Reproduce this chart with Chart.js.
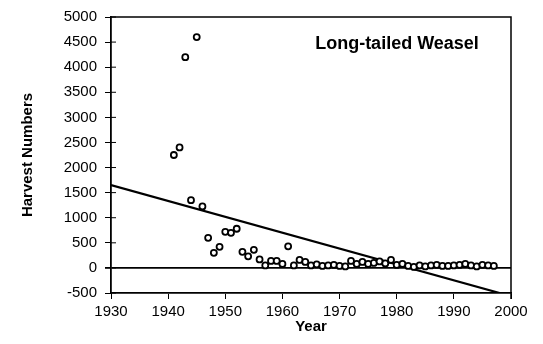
<!DOCTYPE html>
<html>
<head>
<meta charset="utf-8">
<script src="https://cdn.jsdelivr.net/npm/chart.js@4/dist/chart.umd.min.js"></script>
<style>
  html, body { margin: 0; padding: 0; background: #fff; }
  #wrap { width: 543px; height: 344px; }
</style>
</head>
<body>
<div id="wrap"><canvas id="myChart"></canvas></div>
<script>
// harvest numbers
let years = [1941, 1942, 1943, 1944, 1945, 1946, 1947, 1948, 1949, 1950,
    1951, 1952, 1953, 1954, 1955, 1956, 1957, 1958, 1959, 1960,
    1961, 1962, 1963, 1964, 1965, 1966, 1967, 1968, 1969, 1970,
    1971, 1972, 1973, 1974, 1975, 1976, 1977, 1978, 1979, 1980,
    1981, 1982, 1983, 1984, 1985, 1986, 1987, 1988, 1989, 1990,
    1991, 1992, 1993, 1994, 1995, 1996, 1997];
let harvest = [2250, 2400, 4200, 1350, 4600, 1225, 600, 300, 420, 720,
    700, 780, 320, 230, 360, 170, 50, 140, 140, 80,
    430, 50, 160, 120, 50, 70, 40, 50, 60, 40,
    30, 140, 80, 120, 80, 100, 130, 90, 160, 60,
    80, 40, 20, 50, 30, 50, 60, 40, 40, 50,
    60, 80, 50, 30, 60, 50, 40];

// linear trend line end points
let trendYears = [1930, 1998];
let trendValues = [1650, -500];

let chartTitle = 'Long-tailed Weasel';
let xTitle = 'Year';
let yTitle = 'Harvest Numbers';

let ctx = document.getElementById('myChart');
let fontFamily = '"Liberation Sans", Arial, Helvetica, sans-serif';

let boxPlugin = {
    id: 'box',
    afterDraw(chart) {
        let c = chart.ctx;
        let a = chart.chartArea;
        c.save();
        c.strokeStyle = '#000';
        c.lineWidth = 1.5;
        c.beginPath();
        c.moveTo(a.left, a.top);
        c.lineTo(a.right, a.top);
        c.lineTo(a.right, a.bottom + 6);
        c.stroke();
        // small inside ticks on y axis
        let ys = chart.scales.y;
        c.lineWidth = 1;
        ys.ticks.forEach(t => {
            let py = ys.getPixelForValue(t.value);
            c.beginPath();
            c.moveTo(a.left, py);
            c.lineTo(a.left + 5, py);
            c.stroke();
        });
        c.fillStyle = '#000';
        c.font = 'bold 18px ' + fontFamily;
        c.textAlign = 'center';
        c.textBaseline = 'middle';
        c.fillText(chartTitle, 397, 44);
        c.restore();
    }
};

let scatter = new Chart(ctx, {
    type: 'scatter',
    plugins: [boxPlugin],
    data: {
        datasets: [
            {
                label: 'Harvest',
                data: years.map((y, i) => ({x: y, y: harvest[i]})),
                pointStyle: 'circle',
                pointRadius: 3,
                pointBorderWidth: 1.8,
                borderColor: '#000',
                backgroundColor: '#fff'
            },
            {
                type: 'line',
                label: 'Trend',
                data: trendYears.map((y, i) => ({x: y, y: trendValues[i]})),
                borderColor: '#000',
                borderWidth: 2.2,
                pointRadius: 0,
                fill: false
            }
        ]
    },
    options: {
        responsive: true,
        maintainAspectRatio: false,
        animation: false,
        layout: {padding: {top: 17, right: 32, left: 0, bottom: 0}},
        plugins: {
            legend: {display: false},
            tooltip: {enabled: false}
        },
        scales: {
            x: {
                type: 'linear',
                min: 1930,
                max: 2000,
                afterFit(scale) { scale.height = 51; },
                ticks: {
                    stepSize: 10,
                    color: '#000',
                    padding: 4,
                    maxRotation: 0,
                    callback: v => String(v),
                    font: {family: fontFamily, size: 15}
                },
                grid: {
                    drawOnChartArea: false,
                    tickLength: 6,
                    tickColor: '#000'
                },
                border: {color: '#000', width: 1.8},
                title: {
                    display: true,
                    text: xTitle,
                    color: '#000',
                    padding: {top: 0, bottom: 8},
                    font: {family: fontFamily, size: 15, weight: 'bold'}
                }
            },
            y: {
                min: -500,
                max: 5000,
                afterFit(scale) { scale.width = 111; },
                ticks: {
                    stepSize: 500,
                    color: '#000',
                    padding: 8,
                    callback: v => String(v),
                    font: {family: fontFamily, size: 15}
                },
                grid: {
                    color: c => c.tick && c.tick.value === 0 ? '#000' : 'rgba(0,0,0,0)',
                    lineWidth: c => c.tick && c.tick.value === 0 ? 1.8 : 1,
                    tickLength: 6,
                    tickColor: '#000'
                },
                border: {color: '#000', width: 1.8},
                title: {
                    display: true,
                    text: yTitle,
                    color: '#000',
                    padding: {top: 19, bottom: 0},
                    font: {family: fontFamily, size: 15, weight: 'bold'}
                }
            }
        }
    }
});
</script>
</body>
</html>
